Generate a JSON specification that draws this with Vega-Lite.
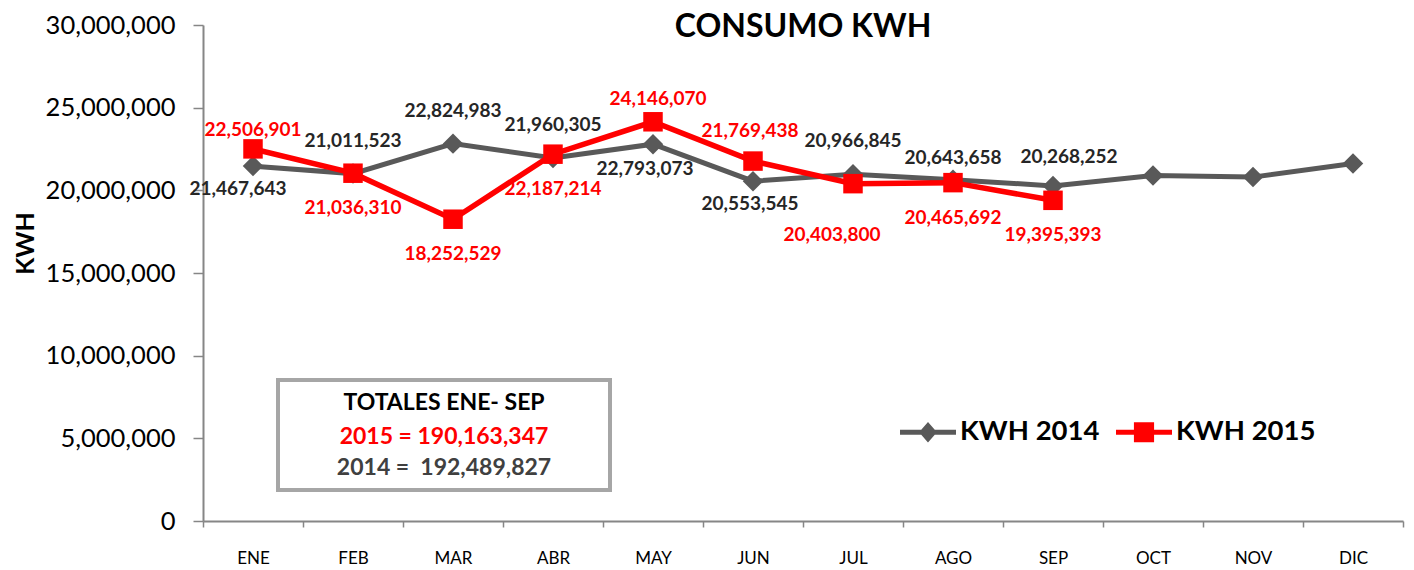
{
  "$schema": "https://vega.github.io/schema/vega-lite/v6.json",
  "width": 1200,
  "height": 496,
  "autosize": "none",
  "padding": {"left": 203, "top": 25, "right": 11, "bottom": 49},
  "background": "white",
  "config": {"view": {"stroke": null}, "font": "Lato"},
  "title": {"text": "CONSUMO KWH", "font": "Lato", "fontSize": 32, "fontWeight": "bold", "color": "#000000", "anchor": "middle", "baseline": "alphabetic", "offset": -56},
  "data": {"values": [
    {"mes": "ENE", "serie": "KWH 2014", "kwh": 21467643},
    {"mes": "FEB", "serie": "KWH 2014", "kwh": 21011523},
    {"mes": "MAR", "serie": "KWH 2014", "kwh": 22824983},
    {"mes": "ABR", "serie": "KWH 2014", "kwh": 21960305},
    {"mes": "MAY", "serie": "KWH 2014", "kwh": 22793073},
    {"mes": "JUN", "serie": "KWH 2014", "kwh": 20553545},
    {"mes": "JUL", "serie": "KWH 2014", "kwh": 20966845},
    {"mes": "AGO", "serie": "KWH 2014", "kwh": 20643658},
    {"mes": "SEP", "serie": "KWH 2014", "kwh": 20268252},
    {"mes": "OCT", "serie": "KWH 2014", "kwh": 20900000},
    {"mes": "NOV", "serie": "KWH 2014", "kwh": 20800000},
    {"mes": "DIC", "serie": "KWH 2014", "kwh": 21620000},
    {"mes": "ENE", "serie": "KWH 2015", "kwh": 22506901},
    {"mes": "FEB", "serie": "KWH 2015", "kwh": 21036310},
    {"mes": "MAR", "serie": "KWH 2015", "kwh": 18252529},
    {"mes": "ABR", "serie": "KWH 2015", "kwh": 22187214},
    {"mes": "MAY", "serie": "KWH 2015", "kwh": 24146070},
    {"mes": "JUN", "serie": "KWH 2015", "kwh": 21769438},
    {"mes": "JUL", "serie": "KWH 2015", "kwh": 20403800},
    {"mes": "AGO", "serie": "KWH 2015", "kwh": 20465692},
    {"mes": "SEP", "serie": "KWH 2015", "kwh": 19395393}
  ]},
  "resolve": {"scale": {"x": "independent"}, "axis": {"x": "independent"}},
  "layer": [
    {
      "encoding": {
        "x": {"field": "mes", "type": "nominal", "sort": ["ENE","FEB","MAR","ABR","MAY","JUN","JUL","AGO","SEP","OCT","NOV","DIC"],
              "scale": {"type": "band", "paddingInner": 0, "paddingOuter": 0},
              "axis": {"title": null, "labelAngle": 0, "tickBand": "extent", "domainColor": "#868686", "domainWidth": 2, "tickColor": "#868686", "tickWidth": 1.5, "tickSize": 6, "labelFont": "Lato", "labelFontSize": 17, "labelColor": "#000000", "labelPadding": 23}},
        "y": {"field": "kwh", "type": "quantitative", "scale": {"domain": [0, 30000000], "nice": false, "zero": true},
              "axis": {"title": "KWH", "titleFont": "Lato", "titleFontSize": 25, "titleFontWeight": "bold", "titleColor": "#000000", "titleX": -178, "titleY": 218, "titleBaseline": "middle", "titleAlign": "center", "titleAngle": -90,
                       "values": [0, 5000000, 10000000, 15000000, 20000000, 25000000, 30000000], "format": ",d", "grid": false,
                       "domainColor": "#868686", "domainWidth": 2, "tickColor": "#868686", "tickWidth": 1.5, "tickSize": 10, "labelFont": "Lato", "labelFontSize": 25.5, "labelColor": "#000000", "labelPadding": 18}}
      },
      "layer": [
        {"transform": [{"filter": {"field": "serie", "equal": "KWH 2014"}}],
         "mark": {"type": "line", "strokeWidth": 5},
         "encoding": {"color": {"field": "serie", "type": "nominal", "scale": {"domain": ["KWH 2014", "KWH 2015"], "range": ["#595959", "#FF0000"]},
            "legend": {"orient": "none", "legendX": 697, "legendY": 379, "direction": "horizontal", "title": null, "labelFont": "Lato", "labelFontSize": 27.5, "labelFontWeight": "bold", "labelColor": "#000000", "symbolSize": 3136, "labelOffset": 4, "columnPadding": 16, "symbolStrokeWidth": 0, "padding": 0,
              "encode": {"symbols": {"update": {
                "shape": {"signal": "datum.value == 'KWH 2014' ? 'M-1,-0.09H1V0.09H-1Z M-0.32,0L0,-0.37L0.32,0L0,0.37Z' : 'M-1,-0.09H1V0.09H-1Z M-0.36,-0.36H0.36V0.36H-0.36Z'"},
                "fill": {"signal": "datum.value == 'KWH 2014' ? '#595959' : '#FF0000'"},
                "fillOpacity": {"value": 1},
                "strokeWidth": {"value": 0}}}}}}}},
        {"transform": [{"filter": {"field": "serie", "equal": "KWH 2014"}}],
         "mark": {"type": "point", "shape": "diamond", "filled": true, "size": 420, "opacity": 1},
         "encoding": {"color": {"field": "serie", "type": "nominal"}}},
        {"transform": [{"filter": {"field": "serie", "equal": "KWH 2015"}}],
         "mark": {"type": "line", "strokeWidth": 5.5},
         "encoding": {"color": {"field": "serie", "type": "nominal"}}},
        {"transform": [{"filter": {"field": "serie", "equal": "KWH 2015"}}],
         "mark": {"type": "point", "shape": "square", "filled": true, "size": 380, "opacity": 1},
         "encoding": {"color": {"field": "serie", "type": "nominal"}}},

        {"transform": [{"filter": {"and": [{"field": "serie", "equal": "KWH 2014"}, {"field": "mes", "oneOf": ["FEB","MAR","ABR","JUL"]}]}}],
         "mark": {"type": "text", "dy": -33, "font": "Lato", "fontSize": 19, "fontWeight": "bold", "color": "#262626", "baseline": "middle"},
         "encoding": {"text": {"field": "kwh", "type": "quantitative", "format": ",d"}}},
        {"transform": [{"filter": {"and": [{"field": "serie", "equal": "KWH 2014"}, {"field": "mes", "oneOf": ["AGO"]}]}}],
         "mark": {"type": "text", "dy": -22, "font": "Lato", "fontSize": 19, "fontWeight": "bold", "color": "#262626", "baseline": "middle"},
         "encoding": {"text": {"field": "kwh", "type": "quantitative", "format": ",d"}}},
        {"transform": [{"filter": {"and": [{"field": "serie", "equal": "KWH 2014"}, {"field": "mes", "oneOf": ["SEP"]}]}}],
         "mark": {"type": "text", "dx": 16, "dy": -29, "font": "Lato", "fontSize": 19, "fontWeight": "bold", "color": "#262626", "baseline": "middle"},
         "encoding": {"text": {"field": "kwh", "type": "quantitative", "format": ",d"}}},
        {"transform": [{"filter": {"and": [{"field": "serie", "equal": "KWH 2014"}, {"field": "mes", "oneOf": ["ENE"]}]}}],
         "mark": {"type": "text", "dx": -15, "dy": 23, "font": "Lato", "fontSize": 19, "fontWeight": "bold", "color": "#262626", "baseline": "middle"},
         "encoding": {"text": {"field": "kwh", "type": "quantitative", "format": ",d"}}},
        {"transform": [{"filter": {"and": [{"field": "serie", "equal": "KWH 2014"}, {"field": "mes", "oneOf": ["MAY"]}]}}],
         "mark": {"type": "text", "dx": -8, "dy": 25, "font": "Lato", "fontSize": 19, "fontWeight": "bold", "color": "#262626", "baseline": "middle"},
         "encoding": {"text": {"field": "kwh", "type": "quantitative", "format": ",d"}}},
        {"transform": [{"filter": {"and": [{"field": "serie", "equal": "KWH 2014"}, {"field": "mes", "oneOf": ["JUN"]}]}}],
         "mark": {"type": "text", "dx": -3, "dy": 23, "font": "Lato", "fontSize": 19, "fontWeight": "bold", "color": "#262626", "baseline": "middle"},
         "encoding": {"text": {"field": "kwh", "type": "quantitative", "format": ",d"}}},

        {"transform": [{"filter": {"and": [{"field": "serie", "equal": "KWH 2015"}, {"field": "mes", "oneOf": ["ENE"]}]}}],
         "mark": {"type": "text", "dy": -19, "font": "Lato", "fontSize": 19, "fontWeight": "bold", "color": "#FF0000", "baseline": "middle"},
         "encoding": {"text": {"field": "kwh", "type": "quantitative", "format": ",d"}}},
        {"transform": [{"filter": {"and": [{"field": "serie", "equal": "KWH 2015"}, {"field": "mes", "oneOf": ["FEB","MAR","ABR","AGO","SEP"]}]}}],
         "mark": {"type": "text", "dy": 35, "font": "Lato", "fontSize": 19, "fontWeight": "bold", "color": "#FF0000", "baseline": "middle"},
         "encoding": {"text": {"field": "kwh", "type": "quantitative", "format": ",d"}}},
        {"transform": [{"filter": {"and": [{"field": "serie", "equal": "KWH 2015"}, {"field": "mes", "oneOf": ["MAY"]}]}}],
         "mark": {"type": "text", "dx": 5, "dy": -23, "font": "Lato", "fontSize": 19, "fontWeight": "bold", "color": "#FF0000", "baseline": "middle"},
         "encoding": {"text": {"field": "kwh", "type": "quantitative", "format": ",d"}}},
        {"transform": [{"filter": {"and": [{"field": "serie", "equal": "KWH 2015"}, {"field": "mes", "oneOf": ["JUN"]}]}}],
         "mark": {"type": "text", "dx": -3, "dy": -30, "font": "Lato", "fontSize": 19, "fontWeight": "bold", "color": "#FF0000", "baseline": "middle"},
         "encoding": {"text": {"field": "kwh", "type": "quantitative", "format": ",d"}}},
        {"transform": [{"filter": {"and": [{"field": "serie", "equal": "KWH 2015"}, {"field": "mes", "oneOf": ["JUL"]}]}}],
         "mark": {"type": "text", "dx": -21, "dy": 51, "font": "Lato", "fontSize": 19, "fontWeight": "bold", "color": "#FF0000", "baseline": "middle"},
         "encoding": {"text": {"field": "kwh", "type": "quantitative", "format": ",d"}}}
      ]
    },
    {
      "data": {"values": [{"caja": "totales"}]},
      "layer": [
        {"mark": {"type": "rect", "fill": "white", "stroke": "#A6A6A6", "strokeWidth": 4},
         "encoding": {
           "x": {"datum": 0.75, "type": "quantitative", "scale": {"domain": [0, 12], "nice": false, "zero": false}, "axis": null},
           "x2": {"datum": 4.07},
           "y": {"datum": 8528000, "type": "quantitative"},
           "y2": {"datum": 1875000}}},
        {"mark": {"type": "text", "text": "TOTALES ENE- SEP", "font": "Lato", "fontSize": 23, "fontWeight": "bold", "color": "#000000", "baseline": "middle", "align": "center"},
         "encoding": {"x": {"datum": 2.41, "type": "quantitative"}, "y": {"datum": 7137000, "type": "quantitative"}}},
        {"mark": {"type": "text", "text": "2015 = 190,163,347", "font": "Lato", "fontSize": 23, "fontWeight": "bold", "color": "#FF0000", "baseline": "middle", "align": "center"},
         "encoding": {"x": {"datum": 2.41, "type": "quantitative"}, "y": {"datum": 5080000, "type": "quantitative"}}},
        {"mark": {"type": "text", "text": "2014 =\u00a0 192,489,827", "font": "Lato", "fontSize": 23, "fontWeight": "bold", "color": "#404040", "baseline": "middle", "align": "center"},
         "encoding": {"x": {"datum": 2.41, "type": "quantitative"}, "y": {"datum": 3206000, "type": "quantitative"}}}
      ]
    }
  ]
}
